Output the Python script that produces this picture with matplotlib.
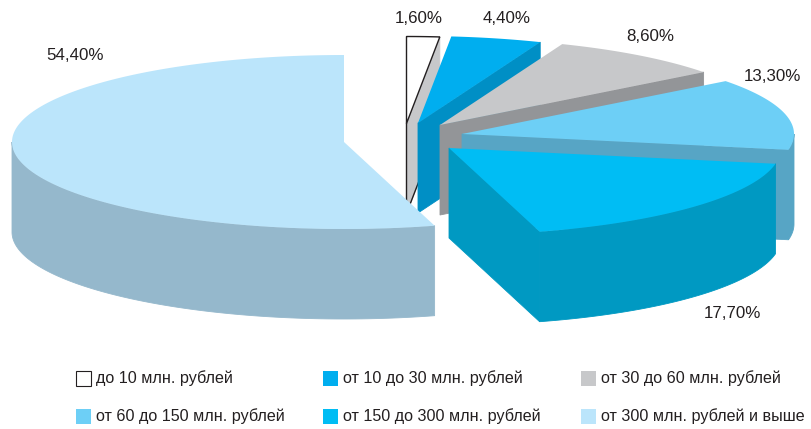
import numpy as np
import matplotlib
matplotlib.use("Agg")
import matplotlib.pyplot as plt
from matplotlib.patches import Rectangle

plt.rcParams['font.family'] = ['Liberation Sans', 'DejaVu Sans']

categories = ["до 10 млн. рублей", "от 10 до 30 млн. рублей", "от 30 до 60 млн. рублей",
              "от 60 до 150 млн. рублей", "от 150 до 300 млн. рублей", "от 300 млн. рублей и выше"]
shares = [1.6, 4.4, 8.6, 13.3, 17.7, 54.4]
share_labels = ["1,60%", "4,40%", "8,60%", "13,30%", "17,70%", "54,40%"]

top_colors = ["#ffffff", "#00aeef", "#c7c8ca", "#6dcff6", "#00bdf4", "#bbe5fb"]
side_colors = ["#c7c8ca", "#008fc5", "#939598", "#57a5c5", "#0099c2", "#95b8cc"]

# pie layout in pixels, each slice has its own exploded centre
RX, RY, DEPTH = 332, 87, 90
centers_x = [406.5, 418, 440, 462, 449, 344]
centers_y = [123.5, 123, 125, 134, 148, 142]
label_x = [419, 507, 650, 772.5, 732.5, 75.5]
label_y = [18.5, 18.5, 36.5, 76.5, 313.5, 56]
draw_order = [0, 1, 2, 3, 5, 4]

fig = plt.figure(figsize=(8.11, 4.29), dpi=100)
ax = fig.add_axes([0, 0, 1, 1])
ax.set_xlim(0, 811)
ax.set_ylim(429, 0)
ax.axis("off")


def rim(cx, cy, ang):
    return cx + RX * np.sin(ang), cy - RY * np.cos(ang)


edges = np.radians(np.concatenate([[0], np.cumsum(shares)]) * 3.6)

for pos, i in enumerate(draw_order):
    cx, cy = centers_x[i], centers_y[i]
    a0, a1 = edges[i], edges[i + 1]
    x_arc, y_arc = rim(cx, cy, np.linspace(a0, a1, 200))
    z = pos * 2 + 1

    # cut face at the end of the slice, only when it looks at the viewer
    if a1 < np.pi:
        fx = [cx, x_arc[-1], x_arc[-1], cx]
        fy = [cy, y_arc[-1], y_arc[-1] + DEPTH, cy + DEPTH]
        ax.fill(fx, fy, color=side_colors[i], lw=0.6, zorder=z)

    # outer wall, front half only
    low = max(a0, np.pi / 2)
    high = min(a1, 3 * np.pi / 2)
    if low < high:
        xw, yw = rim(cx, cy, np.linspace(low, high, 200))
        ax.fill(np.r_[xw, xw[::-1]], np.r_[yw, yw[::-1] + DEPTH], color=side_colors[i],
                lw=0.6, zorder=z)

    if i == 0:
        ax.plot([cx, cx, x_arc[-1]], [cy, cy + DEPTH, y_arc[-1] + DEPTH],
                color="#231f20", lw=1, zorder=z)

    ax.fill(np.r_[cx, x_arc], np.r_[cy, y_arc], facecolor=top_colors[i],
            edgecolor="#231f20" if i == 0 else "none", lw=1, zorder=z + 1)

for i, lab in enumerate(share_labels):
    ax.text(label_x[i], label_y[i], lab, fontsize=12.2, color="#231f20",
            ha="center", va="center", zorder=30)

# legend in two rows of three
col_x = [76, 323, 581]
row_y = [378, 416]
for i, name in enumerate(categories):
    x = col_x[i % 3]
    y = row_y[i // 3]
    ax.add_patch(Rectangle((x, y - 7.5), 15, 15, facecolor=top_colors[i],
                           edgecolor="#231f20" if i == 0 else "none", lw=0.8, zorder=30))
    ax.text(x + 20, y, name, fontsize=11.65, color="#231f20", ha="left", va="center", zorder=30)

fig.savefig("out.png", dpi=100)
